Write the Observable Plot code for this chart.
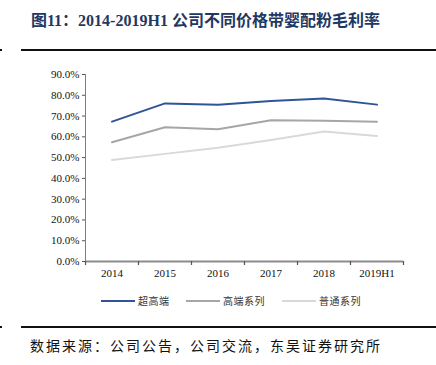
<!DOCTYPE html>
<html><head><meta charset="utf-8">
<script src="https://cdn.jsdelivr.net/npm/d3@7"></script>
<script src="https://cdn.jsdelivr.net/npm/@observablehq/plot@0.6"></script>
<style>
body{margin:0;background:#fff;}
#wrap{position:relative;width:436px;height:365px;overflow:hidden;font-family:"Liberation Serif","Noto Sans CJK SC",serif;}
#title{position:absolute;left:31px;top:7px;font-size:16px;font-weight:bold;color:#1f3864;white-space:nowrap;font-family:"Liberation Serif","Noto Sans CJK SC",serif;}
.hr{position:absolute;left:21px;width:415px;height:2px;background:#111;}
.dot{position:absolute;left:0;width:2px;height:2px;background:#111;}
#chart{position:absolute;left:0;top:60px;}
#legend{position:absolute;top:293px;left:0;width:436px;font-family:"Noto Sans CJK SC",sans-serif;font-size:10px;color:#333;letter-spacing:0.5px;}
.li{position:absolute;display:flex;align-items:center;white-space:nowrap;}
.li span.sw{display:inline-block;width:34px;height:2px;margin-right:3px;}
#source{position:absolute;left:30px;top:335px;font-size:14px;letter-spacing:2px;color:#111;font-family:"Noto Sans CJK SC",sans-serif;white-space:nowrap;}
</style></head>
<body>
<div id="wrap">
  <div id="title">图11：2014-2019H1 公司不同价格带婴配粉毛利率</div>
  <div class="dot" style="top:49px"></div>
  <div class="hr" style="top:49px"></div>
  <div id="chart"></div>
  <div id="legend"></div>
  <div class="dot" style="top:326px"></div>
  <div class="hr" style="top:326px"></div>
  <div id="source">数据来源：公司公告，公司交流，东吴证券研究所</div>
</div>
<script>
const years = ["2014","2015","2016","2017","2018","2019H1"];
const seriesNames = ["超高端","高端系列","普通系列"];
const superHigh = [0.673, 0.761, 0.755, 0.773, 0.784, 0.755];
const highEnd   = [0.574, 0.646, 0.636, 0.680, 0.678, 0.673];
const regular   = [0.489, 0.518, 0.547, 0.585, 0.626, 0.604];
const colors = ["#2f5597","#a6a6a6","#d9d9d9"];
const yTicks = [0,0.1,0.2,0.3,0.4,0.5,0.6,0.7,0.8,0.9];

const allSeries = [superHigh, highEnd, regular];
const data = [];
allSeries.forEach((vals, s) => vals.forEach((v, i) => data.push({series: seriesNames[s], i: i + 0.5, year: years[i], value: v})));

const chart = Plot.plot({
  width: 436,
  height: 230,
  marginLeft: 85,
  marginRight: 33,
  marginTop: 14,
  marginBottom: 29,
  style: {fontFamily: '"Liberation Serif", serif', fontSize: "11px", color: "#111", background: "transparent"},
  x: {domain: [0, years.length], label: null},
  y: {domain: [0, 0.9], label: null},
  color: {domain: seriesNames, range: colors},
  marks: [
    Plot.ruleX([0], {stroke: "#7f7f7f", strokeWidth: 1}),
    Plot.axisY({ticks: yTicks, tickFormat: d3.format(".1%"), tickSize: 3, tickPadding: 3, stroke: "#555", fill: "#111", fontSize: 11, label: null}),
    Plot.line(data, {x: "i", y: "value", z: "series", stroke: "series", strokeWidth: 2, curve: "linear"}),
    Plot.ruleY([0], {stroke: "#8c8c8c", strokeWidth: 2}),
    Plot.axisX({ticks: d3.range(0, years.length + 1), tickFormat: () => "", tickSize: 4, stroke: "#555", strokeWidth: 1.2, label: null}),
    Plot.axisX({ticks: d3.range(years.length).map(i => i + 0.5), tickFormat: d => years[Math.floor(d)], tickSize: 0, tickPadding: 8, fill: "#111", fontSize: 11, label: null})
  ]
});
document.getElementById("chart").appendChild(chart);

const legend = document.getElementById("legend");
const legendX = [101, 186, 282];
seriesNames.forEach((n, k) => {
  const el = document.createElement("div");
  el.className = "li";
  el.style.left = legendX[k] + "px";
  el.innerHTML = `<span class="sw" style="background:${colors[k]}"></span><span>${n}</span>`;
  legend.appendChild(el);
});
</script>
</body></html>
